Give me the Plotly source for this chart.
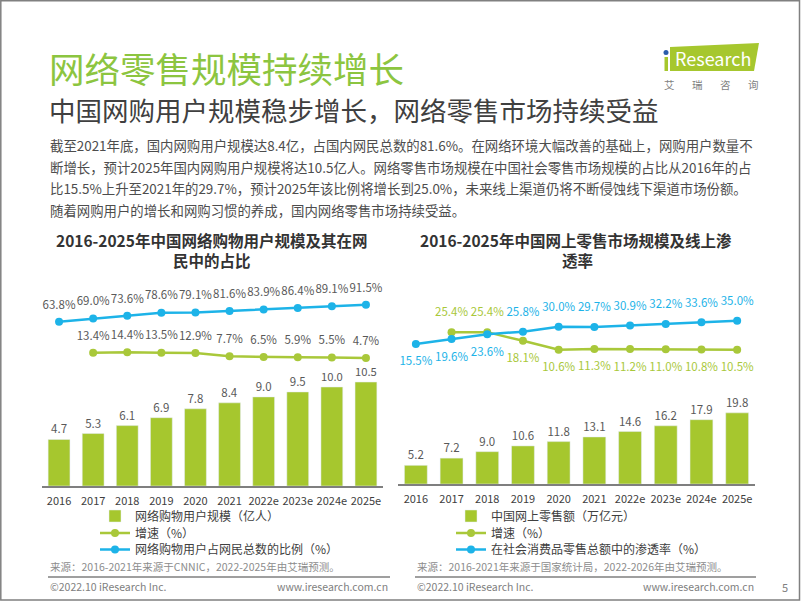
import plotly.graph_objects as go

W, H = 802, 602
def px(x): return x / W
def py(y): return 1 - y / H

FONT = "Noto Sans CJK SC"

# ---------------- data ----------------
years = ["2016", "2017", "2018", "2019", "2020", "2021", "2022e", "2023e", "2024e", "2025e"]

users = [4.7, 5.3, 6.1, 6.9, 7.8, 8.4, 9.0, 9.5, 10.0, 10.5]
users_growth = [None, 13.4, 14.4, 13.5, 12.9, 7.7, 6.5, 5.9, 5.5, 4.7]
users_share = [63.8, 69.0, 73.6, 78.6, 79.1, 81.6, 83.9, 86.4, 89.1, 91.5]

retail = [5.2, 7.2, 9.0, 10.6, 11.8, 13.1, 14.6, 16.2, 17.9, 19.8]
retail_growth = [None, 25.4, 25.4, 18.1, 10.6, 11.3, 11.2, 11.0, 10.8, 10.5]
retail_pen = [15.5, 19.6, 23.6, 25.8, 30.0, 29.7, 30.9, 32.2, 33.6, 35.0]

BAR = "#a6c72e"
GREEN = "#a9c83a"
BLUE = "#1db3e8"
LBL = "#595959"
LFS = 11.5

def pct(v):
    return None if v is None else f"{v:.1f}%"

fig = go.Figure()

def line_trace(y, name, color, xa, ya, lg):
    return go.Scatter(
        x=years, y=y, name=name, mode="lines+markers",
        line=dict(color=color, width=2.5), marker=dict(size=8, color=color),
        xaxis=xa, yaxis=ya, legend=lg, cliponaxis=False)

def label_trace(y, pos, color, xa, ya, msize):
    # transparent markers only widen the gap between a point and its label
    return go.Scatter(
        x=years, y=y, mode="markers+text", showlegend=False, hoverinfo="skip",
        marker=dict(size=msize, color="rgba(0,0,0,0)"),
        text=[pct(v) for v in y], textposition=pos,
        textfont=dict(size=LFS, color=color, family=FONT), cliponaxis=False,
        xaxis=xa, yaxis=ya)

# ---------------- left chart ----------------
fig.add_trace(go.Bar(
    x=years, y=users, name="网络购物用户规模（亿人）",
    marker_color=BAR, text=[f"{v:.1f}" for v in users], textposition="outside",
    textfont=dict(size=LFS, color=LBL, family=FONT), cliponaxis=False,
    xaxis="x", yaxis="y", legend="legend"))
fig.add_trace(line_trace(users_growth, "增速（%）", GREEN, "x", "y2", "legend2"))
fig.add_trace(line_trace(users_share, "网络购物用户占网民总数的比例（%）", BLUE, "x", "y2", "legend3"))
fig.add_trace(label_trace(users_growth, "top center", LBL, "x", "y2", 15))
fig.add_trace(label_trace(users_share, "top center", LBL, "x", "y2", 15))

# ---------------- right chart ----------------
fig.add_trace(go.Bar(
    x=years, y=retail, name="中国网上零售额（万亿元）",
    marker_color=BAR, text=[f"{v:.1f}" for v in retail], textposition="outside",
    textfont=dict(size=LFS, color=LBL, family=FONT), cliponaxis=False,
    xaxis="x2", yaxis="y3", legend="legend4"))
fig.add_trace(line_trace(retail_growth, "增速（%）", GREEN, "x2", "y4", "legend5"))
fig.add_trace(line_trace(retail_pen, "在社会消费品零售总额中的渗透率（%）", BLUE, "x2", "y4", "legend6"))
fig.add_trace(label_trace(retail_growth, ["top center"] * 3 + ["bottom center"] * 7,
                          GREEN, "x2", "y4", 19))
fig.add_trace(label_trace(retail_pen, ["bottom center"] * 3 + ["top center"] * 7,
                          BLUE, "x2", "y4", 19))

xcommon = dict(showline=True, linecolor="#7f7f7f", linewidth=1.5, showgrid=False,
               ticks="", tickangle=0, tickfont=dict(size=11, color="#404040", family=FONT),
               ticklabelstandoff=4, fixedrange=True,
               range=[-0.5, len(years) - 0.5], autorange=False)
ycommon = dict(visible=False, showgrid=False, zeroline=False, fixedrange=True)

def leg(x, y):
    return dict(x=px(x), y=py(y), xanchor="left", yanchor="middle",
                font=dict(size=12, color="#404040", family=FONT),
                bgcolor="rgba(0,0,0,0)", itemclick=False, itemdoubleclick=False,
                borderwidth=0)

fig.update_layout(
    width=W, height=H, margin=dict(l=0, r=0, t=0, b=0),
    paper_bgcolor="white", plot_bgcolor="white",
    font=dict(family=FONT),
    bargap=0.36, hovermode=False,
    xaxis=dict(domain=[px(42), px(383)], anchor="y", **xcommon),
    yaxis=dict(domain=[py(486), py(290)], range=[0, 19.8], **ycommon),
    yaxis2=dict(overlaying="y", anchor="x", range=[-203.6, 115.6], **ycommon),
    xaxis2=dict(domain=[px(398), px(755)], anchor="y3", **xcommon),
    yaxis3=dict(domain=[py(484), py(290)], range=[0, 54], **ycommon),
    yaxis4=dict(overlaying="y3", anchor="x2", range=[-102.2, 60.8], **ycommon),
    legend=leg(95, 516),
    legend2=leg(95, 533),
    legend3=leg(95, 549.5),
    legend4=leg(451, 516),
    legend5=leg(451, 533),
    legend6=leg(451, 549.5),
    showlegend=True,
)

ann = []
def text(x, y, s, size, color, anchor="left", bold=False):
    ann.append(dict(x=px(x), y=py(y), xref="paper", yref="paper", text=s, showarrow=False,
                    xanchor=anchor, yanchor="middle",
                    font=dict(size=size, color=color, family=FONT,
                              weight="bold" if bold else "normal")))

text(47, 68, "网络零售规模持续增长", 35.5, "#8cc540")
text(47, 109, "中国网购用户规模稳步增长，网络零售市场持续受益", 26.5, "#404040")
para = [
    "截至2021年底，国内网购用户规模达8.4亿，占国内网民总数的81.6%。在网络环境大幅改善的基础上，网购用户数量不",
    "断增长，预计2025年国内网购用户规模将达10.5亿人。网络零售市场规模在中国社会零售市场规模的占比从2016年的占",
    "比15.5%上升至2021年的29.7%，预计2025年该比例将增长到25.0%，未来线上渠道仍将不断侵蚀线下渠道市场份额。",
    "随着网购用户的增长和网购习惯的养成，国内网络零售市场持续受益。",
]
for i, line in enumerate(para):
    text(48, 145 + i * 21.7, line, 13.4, "#4d4d4d")

text(211, 240, "2016-2025年中国网络购物用户规模及其在网", 15.5, "#333333", "center", True)
text(212, 260, "民中的占比", 15.5, "#333333", "center", True)
text(576, 240, "2016-2025年中国网上零售市场规模及线上渗", 15.5, "#333333", "center", True)
text(577, 260, "透率", 15.5, "#333333", "center", True)

text(48, 566, "来源：2016-2021年来源于CNNIC，2022-2025年由艾瑞预测。", 10.5, "#8c8c8c")
text(415, 566, "来源：2016-2021年来源于国家统计局，2022-2026年由艾瑞预测。", 10.5, "#8c8c8c")
text(48, 586, "©2022.10 iResearch Inc.", 10.5, "#808080")
text(390, 586, "www.iresearch.com.cn", 10.5, "#808080", "right")
text(415, 586, "©2022.10 iResearch Inc.", 10.5, "#808080")
text(756, 586, "www.iresearch.com.cn", 10.5, "#808080", "right")
text(785, 587, "5", 11, "#808080", "center")

# logo
text(713, 58, "Research", 18, "white", "center")
for ch, x in zip(["艾", "瑞", "咨", "询"], [669, 697, 725, 753]):
    text(x, 84, ch, 10.5, "#7f7f7f", "center")

shapes = []
def poly(pts, color):
    path = "M" + " L".join(f"{px(x)},{py(y)}" for x, y in pts) + " Z"
    shapes.append(dict(type="path", xref="paper", yref="paper", path=path,
                       fillcolor=color, line=dict(width=0), layer="below"))
poly([(670, 47), (759, 43), (754, 71), (670, 71)], "#a6c72e")
poly([(664.5, 57), (668, 57), (668, 71), (664.5, 71)], "#a6c72e")
shapes.append(dict(type="circle", xref="paper", yref="paper",
                   x0=px(663.5), x1=px(668.5), y0=py(55), y1=py(50),
                   fillcolor="#2a5caa", line=dict(width=0)))
# footer rules
shapes.append(dict(type="line", xref="paper", yref="paper", x0=px(48), x1=px(390),
                   y0=py(577), y1=py(577), line=dict(color="#7f7f7f", width=1.5)))
shapes.append(dict(type="line", xref="paper", yref="paper", x0=px(415), x1=px(756),
                   y0=py(577), y1=py(577), line=dict(color="#7f7f7f", width=1.5)))
# slide border
shapes.append(dict(type="rect", xref="paper", yref="paper", x0=px(0.8), x1=px(799.5),
                   y0=py(600), y1=py(0.8), line=dict(color="#808080", width=1.5)))

fig.update_layout(annotations=ann, shapes=shapes)
fig.write_html(
    "out.html",
    config={"displayModeBar": False},
    post_script="document.body.style.margin='0';document.body.style.padding='0';"
                "document.body.style.overflow='hidden';",
)
